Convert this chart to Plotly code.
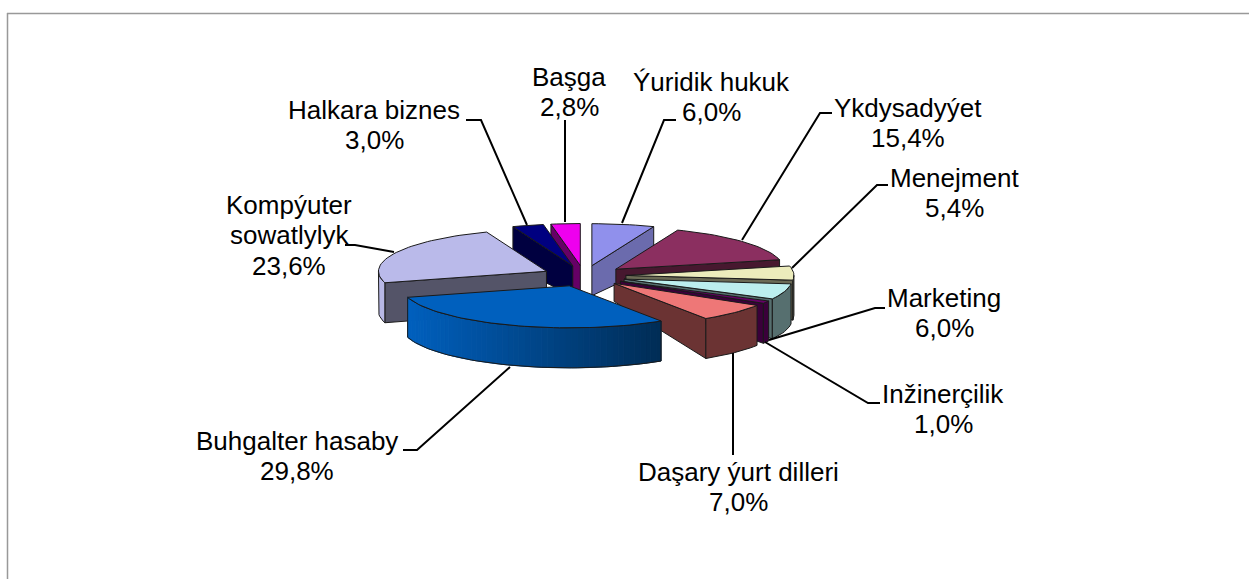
import math
import plotly.graph_objects as go

# --- data ---
categories = ["Ýuridik hukuk", "Ykdysadyýet", "Menejment", "Marketing", "Inžinerçilik",
              "Daşary ýurt dilleri", "Buhgalter hasaby", "Kompýuter\nsowatlylyk",
              "Halkara biznes", "Başga"]
values = [6.0, 15.4, 5.4, 6.0, 1.0, 7.0, 29.8, 23.6, 3.0, 2.8]

# --- styles ---
top_colors = ["#9090EC", "#8B2F60", "#ECECBC", "#BCEEEE", "#660066",
              "#EE7777", "#0060BE", "#BABAEA", "#000080", "#EE00EE"]
cut_colors = ["#6B6BAD", "#47182F", "#6B6A55", "#566F6F", "#3A003A",
              "#6B3333", "#002C55", "#545468", "#000040", "#660066"]
arc_colors = ["#6B6BAD", "#47182F", "#6B6A55", "#566F6F", "#3A003A",
              "#6B3333", "#0060BE", "#B7B7E5", "#000040", "#660066"]
apex_depth = [30, 18, 10, 8, 14, 18, 39, 39, 30, 30]
draw_order = [0, 9, 8, 7, 1, 2, 3, 4, 5, 6]

# --- layout of labels and leader lines (pixels) ---
label_x = [711, 908, 954, 944, 943, 738, 297, 289, 374, 569]
label_y = [82, 108, 178, 298, 394, 472, 441, 205, 110, 77]
LINE_STEP = 30.3
leaders = [[(622, 223), (664, 120), (676, 120)],
           [(742, 240), (820, 113), (832, 113)],
           [(792, 268), (877, 185), (888, 185)],
           [(769, 340), (875, 308), (885, 308)],
           [(765, 342), (868, 403), (880, 403)],
           [(733, 353), (733, 455)],
           [(510, 367), (417, 450), (403, 450)],
           [(394, 252), (355, 245), (345, 245)],
           [(527, 225), (481, 120), (466, 120)],
           [(565, 222), (565, 120)]]

CX, CY, RX, RY, DEPTH, EXPLODE = 584, 276, 168, 42, 40, 0.25
EDGE = "#1a1a1a"

fig = go.Figure()


def poly(xs, ys, fill, line=EDGE, width=1):
    fig.add_trace(go.Scatter(
        x=list(xs) + [xs[0]], y=list(ys) + [ys[0]], mode="lines", fill="toself",
        fillcolor=fill, line=dict(color=line if line else fill, width=width),
        hoverinfo="skip", showlegend=False))


def lerp_color(c1, c2, t):
    a = [int(c1[i:i + 2], 16) for i in (1, 3, 5)]
    b = [int(c2[i:i + 2], 16) for i in (1, 3, 5)]
    return "#%02x%02x%02x" % tuple(round(p + (q - p) * t) for p, q in zip(a, b))


# slice angles from the values
edges = [0.0]
for v in values:
    edges.append(edges[-1] + v * 3.6)


def pt(ax, ay, deg):
    r = math.radians(deg)
    return ax + RX * math.sin(r), ay - RY * math.cos(r)


for i in draw_order:
    a0, a1 = edges[i], edges[i + 1]
    mid = math.radians((a0 + a1) / 2)
    ax = CX + EXPLODE * RX * math.sin(mid)
    ay = CY - EXPLODE * RY * math.cos(mid)
    n = max(4, int((a1 - a0) / 2))
    arc = [pt(ax, ay, a0 + (a1 - a0) * k / n) for k in range(n + 1)]

    # straight cut wall
    if a1 <= 180:
        cx_, cy_ = arc[-1]
        poly([ax, cx_, cx_, ax], [ay, cy_, cy_ + DEPTH, ay + apex_depth[i]], cut_colors[i])
    elif a0 >= 180:
        cx_, cy_ = arc[0]
        poly([ax, cx_, cx_, ax], [ay, cy_, cy_ + DEPTH, ay + apex_depth[i]], cut_colors[i])

    # curved outer wall
    lo, hi = max(a0, 90), min(a1, 270)
    if hi > lo:
        m = max(2, int((hi - lo) / 2))
        front = [pt(ax, ay, lo + (hi - lo) * k / m) for k in range(m + 1)]
        if i == categories.index("Buhgalter hasaby"):
            xmin, xmax = min(p[0] for p in front), max(p[0] for p in front)
            for k in range(m):
                p, q = front[k], front[k + 1]
                t = ((p[0] + q[0]) / 2 - xmin) / (xmax - xmin)
                col = lerp_color(top_colors[i], cut_colors[i], t)
                poly([p[0], q[0], q[0], p[0]],
                     [p[1], q[1], q[1] + DEPTH, p[1] + DEPTH], col, line=col, width=1)
            xs = [p[0] for p in front] + [p[0] for p in reversed(front)]
            ys = [p[1] for p in front] + [p[1] + DEPTH for p in reversed(front)]
            fig.add_trace(go.Scatter(x=xs + xs[:1], y=ys + ys[:1], mode="lines",
                                     line=dict(color=EDGE, width=1),
                                     hoverinfo="skip", showlegend=False))
        else:
            xs = [p[0] for p in front] + [p[0] for p in reversed(front)]
            ys = [p[1] for p in front] + [p[1] + DEPTH for p in reversed(front)]
            poly(xs, ys, arc_colors[i])

    # top surface
    poly([ax] + [p[0] for p in arc], [ay] + [p[1] for p in arc], top_colors[i])

# leader lines
for path in leaders:
    fig.add_trace(go.Scatter(x=[p[0] for p in path], y=[p[1] for p in path], mode="lines",
                             line=dict(color="black", width=2),
                             hoverinfo="skip", showlegend=False))

# labels: each text line placed separately for the tighter line pitch
annotations = []
for name, v, x, y in zip(categories, values, label_x, label_y):
    lines = name.split("\n") + [f"{v:.1f}".replace(".", ",") + "%"]
    for k, line in enumerate(lines):
        annotations.append(dict(x=x, y=y + k * LINE_STEP, text=line, showarrow=False,
                                xref="x", yref="y", align="center",
                                font=dict(family="Liberation Sans", size=26, color="black")))

fig.update_layout(
    width=1249, height=579, margin=dict(l=0, r=0, t=0, b=0),
    paper_bgcolor="white", plot_bgcolor="white", showlegend=False,
    xaxis=dict(range=[0, 1249], visible=False, fixedrange=True),
    yaxis=dict(range=[579, 0], visible=False, fixedrange=True),
    annotations=annotations,
    shapes=[dict(type="line", xref="x", yref="y", x0=7.5, x1=7.5, y0=13, y1=579,
                 line=dict(color="#999999", width=1.5)),
            dict(type="line", xref="x", yref="y", x0=7, x1=1249, y0=13.5, y1=13.5,
                 line=dict(color="#999999", width=1.5))],
)
fig.write_html("out.html", config={"displayModeBar": False},
               post_script="document.body.style.margin='0';document.body.style.overflow='hidden';")
